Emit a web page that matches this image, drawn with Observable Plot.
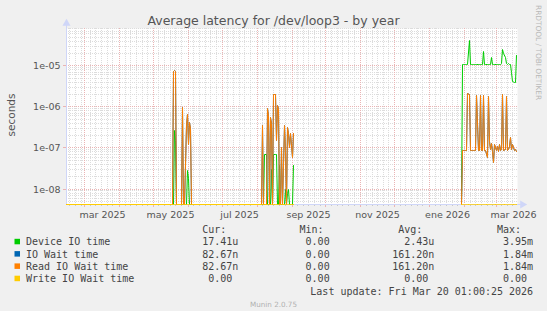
<!DOCTYPE html>
<html><head><meta charset="utf-8">
<script src="https://cdn.jsdelivr.net/npm/d3@7"></script>
<script src="https://cdn.jsdelivr.net/npm/@observablehq/plot@0.6"></script>
<style>
html,body{margin:0;padding:0;background:#f0f0f0;}
#chart{width:547px;height:311px;overflow:hidden;}
#chart svg{display:block;}
</style></head><body><div id="chart"></div>
<script>
// ---- data (daily averages; 0 = drawn on the floor, null = no data) ----
const dates = [
 "2025-02-13",
 "2025-05-18","2025-05-19","2025-05-20","2025-05-21","2025-05-22",
 "2025-05-26","2025-05-27","2025-05-28","2025-05-29","2025-05-30","2025-05-31",
 "2025-06-01","2025-06-02","2025-06-03","2025-06-04",
 "2025-08-05","2025-08-06","2025-08-07","2025-08-08","2025-08-09","2025-08-10","2025-08-11",
 "2025-08-12","2025-08-13","2025-08-14","2025-08-15","2025-08-16","2025-08-17","2025-08-18",
 "2025-08-19","2025-08-20","2025-08-21","2025-08-22","2025-08-23","2025-08-24","2025-08-25",
 "2025-08-26","2025-08-27","2025-08-28","2025-08-29","2025-08-30","2025-08-31","2025-09-01",
 "2025-09-02",
 "2025-11-01",
 "2026-01-29","2026-01-30","2026-01-31","2026-02-01","2026-02-02","2026-02-03","2026-02-04",
 "2026-02-05","2026-02-06","2026-02-07","2026-02-08","2026-02-09","2026-02-10","2026-02-11",
 "2026-02-12","2026-02-13","2026-02-14","2026-02-15","2026-02-16","2026-02-17","2026-02-18",
 "2026-02-19","2026-02-20","2026-02-21","2026-02-22","2026-02-23","2026-02-24","2026-02-25",
 "2026-02-26","2026-02-27","2026-02-28","2026-03-01","2026-03-02","2026-03-03","2026-03-04",
 "2026-03-05","2026-03-06","2026-03-07","2026-03-08","2026-03-09","2026-03-10","2026-03-11",
 "2026-03-12","2026-03-13","2026-03-14","2026-03-15","2026-03-16","2026-03-17","2026-03-18",
 "2026-03-19"
];
const deviceIO = [
 0,
 0,0,2.6e-7,1.5e-7,0,
 0,0,0,0,0,2.8e-8,
 1.8e-8,0,0,0,
 0,0,0,7e-8,7e-8,0,0,
 0,0,3e-8,0,6.8e-8,6.8e-8,6.8e-8,
 0,0,3.8e-8,0,0,0,0,
 1e-8,0,8e-9,1e-8,0,0,0,
 3.7e-8,
 null,
 0,1.07e-5,1.07e-5,1.07e-5,1.05e-5,1.07e-5,1.1e-5,
 4.1e-5,1.1e-5,1.05e-5,1.1e-5,1.07e-5,1.1e-5,1.07e-5,
 1.1e-5,1.05e-5,1.1e-5,1.07e-5,1.1e-5,1.1e-5,2.26e-5,
 1.1e-5,1.07e-5,1.1e-5,1.07e-5,1.1e-5,1.07e-5,1.6e-5,
 1.1e-5,1.1e-5,1.07e-5,1.1e-5,1.1e-5,1.07e-5,1.1e-5,
 1.1e-5,1.15e-5,2.44e-5,2.0e-5,1.6e-5,1.15e-5,1.1e-5,
 1.12e-5,1.1e-5,1.1e-5,7e-6,4.2e-6,3.9e-6,4e-6,
 1.74e-5
];
const ioWait = [
 0,
 0,7.4e-6,7.6e-6,7.4e-6,0,
 0,9.7e-7,0,0,3.5e-7,6.5e-7,
 1.2e-7,4.2e-7,3.0e-7,0,
 0,3.6e-7,0,0,0,8.9e-7,6e-7,
 0,5.5e-7,4e-7,0,1.95e-6,1.95e-6,1.5e-7,
 1.1e-6,9e-7,0,0,1e-7,0,3.5e-7,
 8e-8,0,3.2e-7,2.2e-7,1e-7,2.3e-7,6e-8,
 2.3e-7,
 null,
 0,8.5e-8,8.5e-8,8.5e-8,8.5e-8,8.5e-8,2.06e-6,
 2.0e-6,8.5e-8,8.5e-8,8.5e-8,8.5e-8,8.5e-8,8.5e-8,
 1.9e-6,8.5e-8,8.5e-8,1.9e-6,8.5e-8,8.5e-8,1.9e-6,
 8.5e-8,8.5e-8,6e-8,1.75e-6,1.4e-7,9e-8,1.3e-7,
 8e-8,4.5e-8,1.2e-7,8.5e-8,1.1e-7,8e-8,1.2e-7,
 8.5e-8,9e-8,2.0e-6,8.5e-8,9e-8,1.75e-6,8.5e-8,
 9e-8,1.1e-7,1.8e-7,9e-8,1.2e-7,8.5e-8,9e-8,
 8.27e-8
];
const readIOWait = ioWait.slice();
const writeIOWait = deviceIO.map(v => v == null ? null : 0);

const seriesNames = ["Device IO time", "IO Wait time", "Read IO Wait time", "Write IO Wait time"];
const seriesColors = ["#00cc00", "#0066b3", "#ff8000", "#ffcc00"];
const curValues = ["17.41u", "82.67n", "82.67n", "0.00"];
const minValues = ["0.00", "0.00", "0.00", "0.00"];
const avgValues = ["2.43u", "161.20n", "161.20n", "0.00"];
const maxValues = ["3.95m", "1.84m", "1.84m", "0.00"];
const columnHeads = ["Cur:", "Min:", "Avg:", "Max:"];

const xTickLabels = ["mar 2025", "may 2025", "jul 2025", "sep 2025", "nov 2025", "ene 2026", "mar 2026"];
const xTickMonths = ["2025-03", "2025-05", "2025-07", "2025-09", "2025-11", "2026-01", "2026-03"];
const yTicks = [1e-5, 1e-6, 1e-7, 1e-8];
const yTickLabels = ["1e-05", "1e-06", "1e-07", "1e-08"];
const xDomain = ["2025-02-13T00:00Z", "2026-03-20T00:00Z"];
const yDomain = [4.2e-9, 8.1e-5];

const titleText = "Average latency for /dev/loop3 - by year";
const yLabelText = "seconds";
const watermarkText = "RRDTOOL / TOBI OETIKER";
const lastUpdateText = "Last update: Fri Mar 20 01:00:25 2026";
const versionText = "Munin 2.0.75";

// ---- build ----
const x0 = new Date(xDomain[0]), x1 = new Date(xDomain[1]);
const floorY = yDomain[0];
const seriesValues = [deviceIO, ioWait, readIOWait, writeIOWait];
const rows = seriesNames.flatMap((name, s) => dates.map((d, i) => {
  const v = seriesValues[s][i];
  return {series: name, date: new Date(d), value: v == null ? NaN : (v <= 0 ? floorY : v)};
}));

const monthStarts = d3.utcMonth.range(d3.utcMonth.ceil(x0), x1);
const minorX = d3.utcMonth.range(d3.utcMonth.floor(x0), x1)
  .flatMap(m => [6, 11, 16, 21, 26].map(day => new Date(Date.UTC(m.getUTCFullYear(), m.getUTCMonth(), day))))
  .filter(d => d > x0 && d < x1);
const minorY = d3.range(-9, -4).flatMap(e => d3.range(2, 10).map(k => k * Math.pow(10, e)))
  .filter(v => v > yDomain[0] && v < yDomain[1]);
const xLabelPos = xTickMonths.map(m => {
  const a = new Date(m + "-01T00:00Z");
  const b = d3.utcMonth.offset(a, 1);
  return new Date((+a + +b) / 2);
});
const xLabelMap = new Map(xLabelPos.map((d, i) => [+d, xTickLabels[i]]));
const yLabelMap = new Map(yTicks.map((d, i) => [d, yTickLabels[i]]));

const axisColor = "#cfd6f8";
const gridColor = "#dcdcdc";
const mgridColor = "#eab4b4";
const arrowX = d3.utcDay.offset(x1, 4);
const arrowY = yDomain[1] * 1.3;

const W = 547, H = 311;
const plotLeft = 66, plotRight = 517, plotTop = 28, plotBottom = 204;

const svgNode = Plot.plot({
  width: W, height: H,
  marginLeft: plotLeft, marginRight: W - plotRight, marginTop: plotTop, marginBottom: H - plotBottom,
  x: {type: "utc", domain: [x0, x1], axis: null, round: true},
  y: {type: "log", domain: yDomain, axis: null, round: true},
  color: {domain: seriesNames, range: seriesColors},
  style: {background: "#f0f0f0", fontFamily: "'DejaVu Sans', sans-serif", fontSize: "9.5px", color: "#555", overflow: "visible"},
  marks: [
    Plot.frame({fill: "white", stroke: null}),
    Plot.ruleY(minorY, {stroke: gridColor, strokeDasharray: "1,1"}),
    Plot.ruleX(minorX, {stroke: gridColor, strokeDasharray: "1,1"}),
    Plot.ruleY(yTicks, {stroke: mgridColor, strokeDasharray: "1,1"}),
    Plot.ruleX(monthStarts, {stroke: mgridColor, strokeDasharray: "1,1"}),
    Plot.axisX(minorX, {tickSize: 2, tickFormat: () => "", stroke: "#c8c8c8"}),
    Plot.axisX(monthStarts, {tickSize: 3, tickFormat: () => "", stroke: mgridColor}),
    Plot.axisY(yTicks, {tickSize: 3, tickPadding: 3, stroke: mgridColor, fill: "#555", fontSize: 9.5,
      tickFormat: d => yLabelMap.get(d)}),
    Plot.axisX(xLabelPos, {tickSize: 0, tickPadding: 6.5, fill: "#555", fontSize: 9.5,
      tickFormat: d => xLabelMap.get(+d)}),
    Plot.ruleY([{y: floorY, a: x0, b: arrowX}], {y: "y", x1: "a", x2: "b", stroke: axisColor}),
    Plot.ruleX([{x: x0, a: floorY, b: arrowY}], {x: "x", y1: "a", y2: "b", stroke: axisColor}),
    Plot.dot([{x: arrowX, y: floorY}], {x: "x", y: "y", symbol: "triangle", rotate: 90, r: 3, fill: axisColor, stroke: null}),
    Plot.dot([{x: x0, y: arrowY}], {x: "x", y: "y", symbol: "triangle", r: 3, fill: axisColor, stroke: null}),
    Plot.line(rows, {x: "date", y: "value", z: "series", stroke: "series", strokeWidth: 1, curve: "linear"})
  ]
});
document.getElementById("chart").appendChild(svgNode);

// ---- texts: title, axis label, watermark, legend ----
const svg = d3.select(svgNode);
const sans = "'DejaVu Sans', sans-serif";
const mono = "'DejaVu Sans Mono', monospace";

svg.append("text").attr("x", W / 2).attr("y", 25).attr("text-anchor", "middle")
  .attr("font-family", sans).attr("font-size", 12.5).attr("fill", "#555").text(titleText);
svg.append("text").attr("transform", "translate(14.5,115) rotate(-90)").attr("text-anchor", "middle")
  .attr("font-family", sans).attr("font-size", 10.5).attr("fill", "#555").text(yLabelText);
svg.append("text").attr("transform", "translate(535.5,5) rotate(90)").attr("text-anchor", "start")
  .attr("font-family", sans).attr("font-size", 7.4).attr("fill", "#b8b8b8").text(watermarkText);

const charW = 6.02;
const colRight = [238.3, 335.7, 434.4, 533.1];
const headBase = 233.1, rowBase0 = 245.4, rowStep = 12.3;
const leg = svg.append("g").attr("font-family", mono).attr("font-size", 10).attr("fill", "#444");
columnHeads.forEach((h, c) => leg.append("text").attr("x", colRight[c] - 2 * charW).attr("y", headBase)
  .attr("text-anchor", "end").text(h));
const cols = [curValues, minValues, avgValues, maxValues];
seriesNames.forEach((name, i) => {
  const yb = rowBase0 + i * rowStep;
  leg.append("rect").attr("x", 14.5).attr("y", yb - 6.6).attr("width", 5.5).attr("height", 5.5).attr("fill", seriesColors[i]);
  leg.append("text").attr("x", 26).attr("y", yb).attr("text-anchor", "start").text(name);
  cols.forEach((vals, c) => {
    const v = vals[i];
    const hasUnit = /[a-zA-Z]$/.test(v);
    leg.append("text").attr("x", colRight[c] - (hasUnit ? 0 : charW)).attr("y", yb).attr("text-anchor", "end").text(v);
  });
});
leg.append("text").attr("x", colRight[3]).attr("y", rowBase0 + 4 * rowStep).attr("text-anchor", "end").text(lastUpdateText);
svg.append("text").attr("x", W / 2).attr("y", 307).attr("text-anchor", "middle")
  .attr("font-family", sans).attr("font-size", 7.2).attr("fill", "#b0b0b0").text(versionText);
</script>
</body></html>
